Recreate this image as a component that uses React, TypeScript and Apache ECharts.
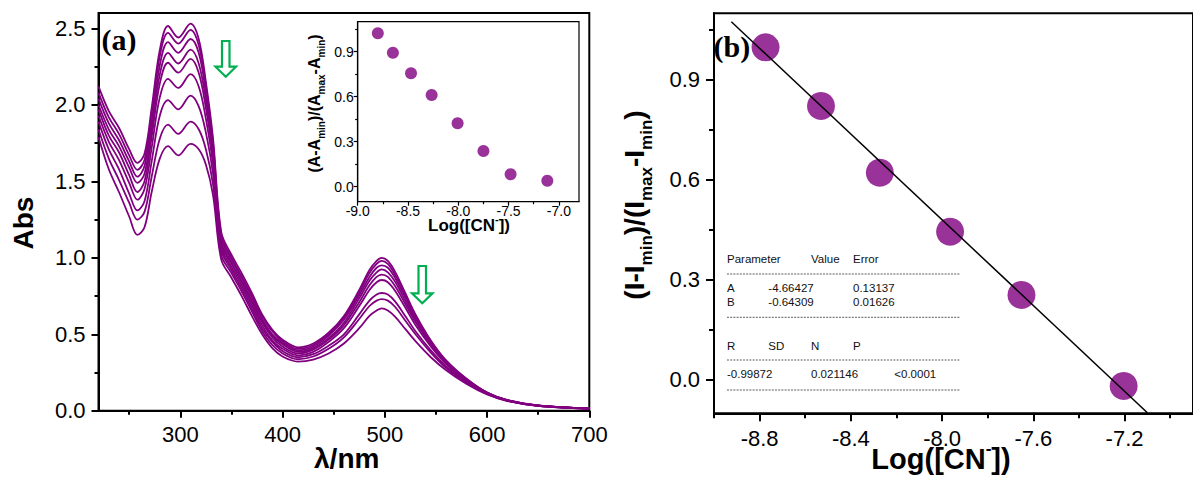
import React, { useEffect, useRef } from "react";
import * as echarts from "echarts";

// ---------- data ----------
const wavelengths = [220, 230, 240, 250, 258, 265, 272, 280, 288, 298, 310, 318, 325, 332, 340, 350, 360, 370, 380, 390, 400, 415, 430, 445, 460, 475, 485, 492, 497, 503, 510, 520, 530, 545, 560, 580, 600, 620, 650, 700];
const abs1 = [2.12, 1.96, 1.85, 1.71, 1.62, 1.68, 1.98, 2.36, 2.515, 2.44, 2.53, 2.43, 2.15, 1.78, 1.17, 1.02, 0.9, 0.77, 0.63, 0.53, 0.465, 0.415, 0.44, 0.51, 0.62, 0.79, 0.92, 0.98, 1.0, 0.98, 0.91, 0.77, 0.63, 0.46, 0.33, 0.21, 0.12, 0.07, 0.035, 0.015];
const abs2 = [2.08, 1.92, 1.81, 1.67, 1.575, 1.64, 1.94, 2.32, 2.47, 2.4, 2.49, 2.39, 2.12, 1.75, 1.15, 1.0, 0.88, 0.75, 0.62, 0.52, 0.455, 0.405, 0.43, 0.5, 0.61, 0.775, 0.9, 0.96, 0.98, 0.96, 0.89, 0.755, 0.62, 0.455, 0.325, 0.207, 0.119, 0.069, 0.035, 0.015];
const abs3 = [2.04, 1.88, 1.77, 1.63, 1.53, 1.6, 1.89, 2.26, 2.41, 2.34, 2.43, 2.34, 2.08, 1.72, 1.13, 0.99, 0.87, 0.74, 0.6, 0.5, 0.445, 0.395, 0.42, 0.49, 0.595, 0.755, 0.875, 0.935, 0.95, 0.935, 0.87, 0.74, 0.61, 0.45, 0.32, 0.204, 0.118, 0.068, 0.034, 0.015];
const abs4 = [2.0, 1.84, 1.73, 1.59, 1.49, 1.55, 1.84, 2.2, 2.34, 2.27, 2.36, 2.27, 2.03, 1.69, 1.11, 0.97, 0.85, 0.72, 0.59, 0.49, 0.435, 0.385, 0.41, 0.475, 0.575, 0.735, 0.85, 0.905, 0.925, 0.905, 0.845, 0.72, 0.595, 0.44, 0.315, 0.2, 0.117, 0.068, 0.034, 0.015];
const abs5 = [1.97, 1.8, 1.69, 1.54, 1.43, 1.5, 1.79, 2.14, 2.275, 2.21, 2.3, 2.21, 1.98, 1.66, 1.09, 0.96, 0.84, 0.71, 0.58, 0.48, 0.42, 0.375, 0.4, 0.465, 0.56, 0.71, 0.82, 0.875, 0.89, 0.875, 0.815, 0.7, 0.58, 0.43, 0.31, 0.197, 0.116, 0.067, 0.034, 0.014];
const abs6 = [1.93, 1.76, 1.64, 1.49, 1.38, 1.45, 1.72, 2.05, 2.17, 2.11, 2.2, 2.12, 1.91, 1.61, 1.07, 0.94, 0.82, 0.69, 0.56, 0.46, 0.405, 0.362, 0.385, 0.45, 0.54, 0.685, 0.79, 0.84, 0.855, 0.84, 0.785, 0.675, 0.56, 0.42, 0.305, 0.194, 0.115, 0.067, 0.033, 0.014];
const abs7 = [1.89, 1.71, 1.58, 1.42, 1.31, 1.37, 1.63, 1.93, 2.03, 1.97, 2.06, 1.99, 1.82, 1.55, 1.05, 0.92, 0.8, 0.67, 0.54, 0.45, 0.39, 0.35, 0.37, 0.425, 0.5, 0.63, 0.72, 0.76, 0.77, 0.76, 0.715, 0.62, 0.52, 0.395, 0.29, 0.188, 0.112, 0.066, 0.033, 0.014];
const abs8 = [1.84, 1.65, 1.51, 1.36, 1.25, 1.3, 1.53, 1.78, 1.87, 1.81, 1.89, 1.84, 1.71, 1.48, 1.02, 0.9, 0.78, 0.65, 0.52, 0.43, 0.375, 0.337, 0.355, 0.405, 0.48, 0.6, 0.685, 0.72, 0.73, 0.72, 0.68, 0.59, 0.5, 0.38, 0.28, 0.183, 0.11, 0.065, 0.033, 0.014];
const abs9 = [1.79, 1.58, 1.43, 1.27, 1.15, 1.2, 1.43, 1.65, 1.73, 1.67, 1.745, 1.71, 1.61, 1.41, 0.99, 0.87, 0.75, 0.62, 0.5, 0.41, 0.355, 0.322, 0.335, 0.375, 0.44, 0.54, 0.62, 0.655, 0.67, 0.655, 0.615, 0.535, 0.455, 0.35, 0.265, 0.175, 0.107, 0.064, 0.032, 0.014];
const spectra = [abs1, abs2, abs3, abs4, abs5, abs6, abs7, abs8, abs9];

const insetLogCN = [-8.8, -8.65, -8.47, -8.265, -8.007, -7.75, -7.48, -7.115];
const insetRatio = [1.023, 0.893, 0.756, 0.611, 0.423, 0.238, 0.083, 0.04];

const logCN = [-8.774, -8.531, -8.273, -7.965, -7.652, -7.204];
const intensityRatio = [0.998, 0.822, 0.622, 0.445, 0.255, -0.018];

const fitA = -4.66427;
const fitB = -0.64309;
const fitAErr = "0.13137";
const fitBErr = "0.01626";
const fitR = "-0.99872";
const fitSD = "0.021146";
const fitP = "<0.0001";
const fitXRange = [-8.924, -7.1];

// tick values
const aXMajor = [300, 400, 500, 600, 700];
const aXMinor = [250, 350, 450, 550, 650];
const aYMajor = [0, 0.5, 1.0, 1.5, 2.0, 2.5];
const aYMinor = [0.25, 0.75, 1.25, 1.75, 2.25];
const inXMajor = [-9.0, -8.5, -8.0, -7.5, -7.0];
const inXMinor = [-8.75, -8.25, -7.75, -7.25];
const ratioYMajor = [0, 0.3, 0.6, 0.9];
const ratioYMinor = [0.15, 0.45, 0.75, 1.05];
const bXMajor = [-8.8, -8.4, -8.0, -7.6, -7.2];
const bXMinor = [-9.0, -8.6, -8.2, -7.8, -7.4, -7.0];

// ---------- styling ----------
const SANS = "'Liberation Sans', Arial, sans-serif";
const SERIF = "'Liberation Serif', 'Times New Roman', serif";
const PURPLE = "#800080";
const GREEN = "#00B050";

function tok(size: number, lineHeight: number, va: string) {
  return { fontSize: size, fontWeight: "bold", fontFamily: SANS, fill: "#000", color: "#000", lineHeight, verticalAlign: va };
}
// subscript: main top-aligned, sub bottom-aligned in a taller line
function richSub(m: number, s: number) {
  return { m: tok(m, 1.1 * m, "top"), s: tok(s, 1.17 * m + 0.15 * s, "bottom") };
}
// superscript: main bottom-aligned, sup top-aligned
function richSup(m: number, s: number) {
  return { m: tok(m, 1.1 * m, "bottom"), p: tok(s, 0.65 * m + 0.85 * s, "top") };
}

function valueAxis(gridIndex: number, min: number, max: number, pos: string, major: number[] | null, minor: number[] | null, opts: any) {
  const isMajor = major !== null;
  const vals = (isMajor ? major : minor) as number[];
  return {
    type: "value",
    gridIndex,
    min,
    max,
    position: pos,
    splitLine: { show: false },
    axisLine: { show: isMajor, onZero: false, lineStyle: { color: "#000", width: opts.lineWidth } },
    axisTick: {
      show: true,
      inside: false,
      customValues: vals,
      length: isMajor ? opts.majorLen : opts.minorLen,
      lineStyle: { color: "#000", width: opts.tickWidth },
    },
    axisLabel: isMajor
      ? {
          show: true,
          customValues: vals,
          fontSize: opts.fontSize,
          fontFamily: SANS,
          color: "#000",
          margin: opts.margin,
          formatter: opts.integer ? (v: number) => String(v) : (v: number) => v.toFixed(1),
        }
      : { show: false },
  };
}

function arrow(x0: number, top: number, headY: number, tip: number) {
  return {
    type: "polygon",
    shape: {
      points: [
        [x0 + 6.5, top],
        [x0 + 14, top],
        [x0 + 14, headY],
        [x0 + 20.5, headY],
        [x0 + 10.25, tip],
        [x0, headY],
        [x0 + 6.5, headY],
      ],
    },
    style: { fill: "#fff", stroke: GREEN, lineWidth: 2.2 },
    z: 50,
  };
}

function tText(t: string, x: number, y: number) {
  return {
    type: "text",
    x,
    y,
    style: { text: t, fontSize: 11.5, fontFamily: SANS, fill: "#111", align: "left", verticalAlign: "middle" },
    z: 50,
  };
}

function dash(y: number) {
  return {
    type: "line",
    shape: { x1: 727, y1: y, x2: 960, y2: y },
    style: { stroke: "#333", lineWidth: 0.8, lineDash: [2, 1.2] },
    z: 50,
  };
}

export default function App() {
  const ref = useRef<HTMLDivElement>(null);
  useEffect(() => {
    if (!ref.current) return;
    const chart = echarts.init(ref.current, null, { renderer: "svg" });

    const aXOpts = { lineWidth: 2, tickWidth: 2, majorLen: 7, minorLen: 4, fontSize: 22, margin: 13, integer: true };
    const aYOpts = { lineWidth: 2, tickWidth: 2, majorLen: 7, minorLen: 4, fontSize: 22, margin: 13 };
    const inOpts = { lineWidth: 1.2, tickWidth: 1.2, majorLen: 4, minorLen: 2.5, fontSize: 14, margin: 2 };
    const bXOpts = { lineWidth: 2, tickWidth: 2, majorLen: 8, minorLen: 5, fontSize: 22, margin: 14 };
    const bYOpts = { ...bXOpts, margin: 14 };

    const fitLine = fitXRange.map((x) => [x, fitA + fitB * x]);

    const series: any[] = spectra.map((curve, k) => ({
      type: "line",
      name: "c" + k,
      xAxisIndex: 0,
      yAxisIndex: 0,
      data: wavelengths.map((w, i) => [w, curve[i]]),
      smooth: 0.35,
      showSymbol: false,
      lineStyle: { color: PURPLE, width: 1.8 },
      z: 2,
    }));
    series.push({
      type: "scatter",
      xAxisIndex: 2,
      yAxisIndex: 2,
      data: insetLogCN.map((x, i) => [x, insetRatio[i]]),
      symbolSize: 12,
      itemStyle: { color: PURPLE },
      z: 3,
    });
    series.push({
      type: "scatter",
      xAxisIndex: 4,
      yAxisIndex: 4,
      data: logCN.map((x, i) => [x, intensityRatio[i]]),
      symbolSize: 28,
      itemStyle: { color: PURPLE },
      z: 3,
    });
    series.push({
      type: "line",
      xAxisIndex: 4,
      yAxisIndex: 4,
      data: fitLine,
      showSymbol: false,
      lineStyle: { color: "#000", width: 1.5 },
      z: 4,
    });

    const sub28 = richSub(28, 17);
    const sub16 = richSub(16, 10);
    const sup29 = richSup(29, 17);
    const sup17 = richSup(17, 11);
    const plain28 = { m: tok(28, 30.8, "top") };

    chart.setOption({
      animation: false,
      backgroundColor: "#fff",
      grid: [
        { left: 98.5, top: 13, width: 490.8, height: 397.8, show: true, borderColor: "#000", borderWidth: 2, backgroundColor: "transparent" },
        { left: 357.7, top: 21.7, width: 221.3, height: 180, show: true, borderColor: "#000", borderWidth: 1.2, backgroundColor: "transparent" },
        { left: 714, top: 13.3, width: 490, height: 400, show: true, borderColor: "#000", borderWidth: 2, backgroundColor: "transparent" },
      ],
      xAxis: [
        valueAxis(0, 220, 700, "bottom", aXMajor, null, aXOpts),
        valueAxis(0, 220, 700, "bottom", null, aXMinor, aXOpts),
        valueAxis(1, -9.0, -6.8, "bottom", inXMajor, null, inOpts),
        valueAxis(1, -9.0, -6.8, "bottom", null, inXMinor, inOpts),
        valueAxis(2, -9.0, -6.9, "bottom", bXMajor, null, bXOpts),
        valueAxis(2, -9.0, -6.9, "bottom", null, bXMinor, bXOpts),
      ],
      yAxis: [
        valueAxis(0, 0, 2.6, "left", aYMajor, null, aYOpts),
        valueAxis(0, 0, 2.6, "left", null, aYMinor, aYOpts),
        valueAxis(1, -0.1, 1.1, "left", ratioYMajor, null, { ...inOpts, margin: 4 }),
        valueAxis(1, -0.1, 1.1, "left", null, ratioYMinor, inOpts),
        valueAxis(2, -0.1, 1.1, "left", ratioYMajor, null, bYOpts),
        valueAxis(2, -0.1, 1.1, "left", null, ratioYMinor, bYOpts),
      ],
      series,
      graphic: [
        { type: "text", x: 101.5, y: 39, style: { text: "(a)", fontSize: 30, fontWeight: "bold", fontFamily: SERIF, fill: "#000", align: "left", verticalAlign: "middle" }, z: 50 },
        { type: "text", x: 713.5, y: 46, style: { text: "(b)", fontSize: 30, fontWeight: "bold", fontFamily: SERIF, fill: "#000", align: "left", verticalAlign: "middle" }, z: 50 },
        // axis titles
        { type: "text", x: 9.8, y: 223, rotation: Math.PI / 2, style: { text: "{m|Abs}", rich: plain28, align: "center", verticalAlign: "top" }, z: 50 },
        { type: "text", x: 346.7, y: 444.8, style: { text: "{m|λ/nm}", rich: plain28, align: "center", verticalAlign: "top" }, z: 50 },
        { type: "text", x: 620, y: 205, rotation: Math.PI / 2, style: { text: "{m|(I-I}{s|min}{m|)/(I}{s|max}{m|-I}{s|min}{m|)}", rich: sub28, align: "center", verticalAlign: "top" }, z: 50 },
        { type: "text", x: 941, y: 440, style: { text: "{m|Log([CN}{p|-}{m|])}", rich: sup29, align: "center", verticalAlign: "top" }, z: 50 },
        { type: "text", x: 306, y: 103.5, rotation: Math.PI / 2, style: { text: "{m|(A-A}{s|min}{m|)/(A}{s|max}{m|-A}{s|min}{m|)}", rich: sub16, align: "center", verticalAlign: "top" }, z: 50 },
        { type: "text", x: 469, y: 213.5, style: { text: "{m|Log([CN}{p|-}{m|])}", rich: sup17, align: "center", verticalAlign: "top" }, z: 50 },
        // arrows
        arrow(215.5, 41, 66.7, 76.7),
        arrow(412, 266, 293.3, 303.3),
        // regression table
        tText("Parameter", 727, 259),
        tText("Value", 811, 259),
        tText("Error", 853, 259),
        dash(274),
        tText("A", 727, 288.3),
        tText(fitA.toFixed(5), 768.3, 288.3),
        tText(fitAErr, 853, 288.3),
        tText("B", 727, 302.3),
        tText(fitB.toFixed(5), 768.3, 302.3),
        tText(fitBErr, 853, 302.3),
        dash(317.3),
        tText("R", 727, 346),
        tText("SD", 768.3, 346),
        tText("N", 811, 346),
        tText("P", 853, 346),
        dash(360),
        tText(fitR, 727, 374.3),
        tText(fitSD, 811, 374.3),
        tText(fitP, 894.3, 374.3),
        dash(390),
      ],
    });
    return () => chart.dispose();
  }, []);
  return <div ref={ref} style={{ position: "fixed", left: 0, top: 0, width: 1193, height: 481 }} />;
}
